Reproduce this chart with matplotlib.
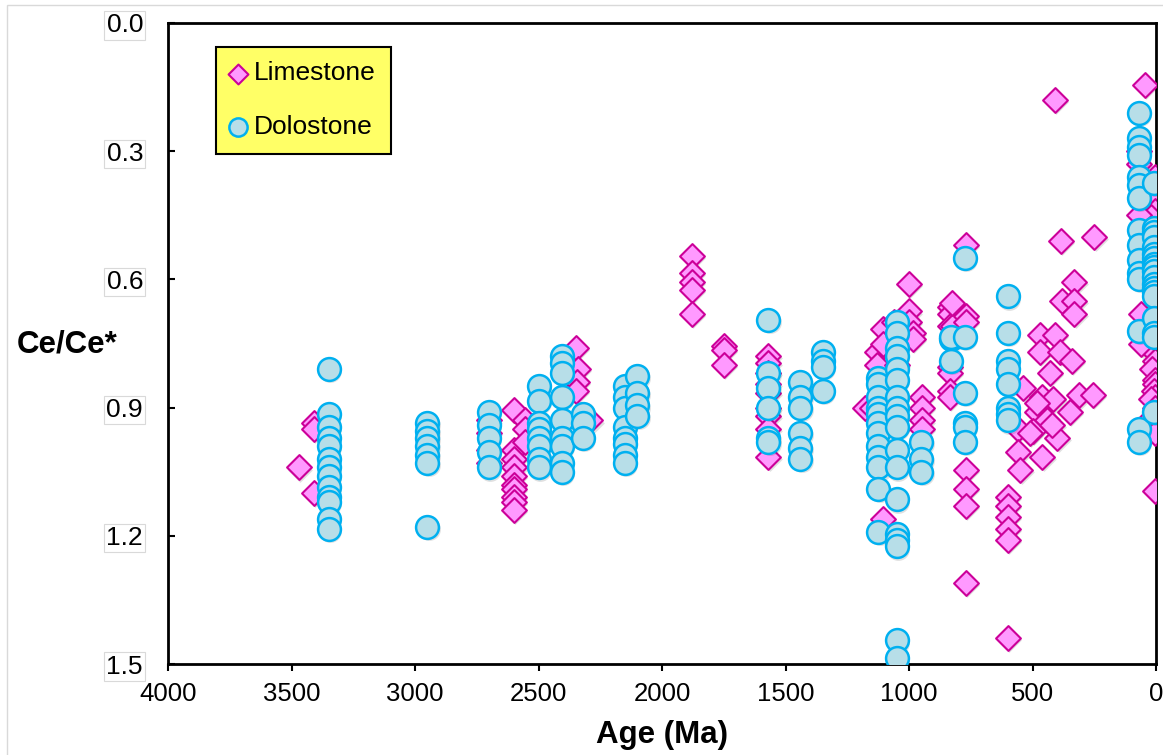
import matplotlib
matplotlib.use("Agg")
import matplotlib.pyplot as plt
from matplotlib.transforms import offset_copy
from matplotlib.patches import Rectangle

plt.rcParams['font.family'] = ['Liberation Sans', 'DejaVu Sans']

# Limestone samples: age (Ma) and Ce/Ce*
lime_age = [3470, 3410, 3410, 3410,
            2700, 2700, 2700, 2700,
            2600, 2600, 2600, 2600, 2600, 2600, 2600, 2600, 2600, 2600,
            2555, 2555, 2555,
            2350, 2340, 2345, 2350, 2290,
            1880, 1880, 1880, 1880, 1880,
            1750, 1750, 1750,
            1570, 1570, 1570, 1570, 1570, 1570, 1570, 1570, 1570,
            1180, 1150, 1130, 1130, 1105, 1105, 1105,
            1060, 1040, 1050, 1110, 1120, 1050, 1100,
            1000, 1000, 1000, 985, 985,
            947, 947, 947, 947,
            834, 834, 834, 834, 834, 834, 834, 822, 826,
            770, 770, 770, 770, 770, 770, 770,
            600, 600, 600, 600, 600, 600,
            470, 410, 470, 390, 340, 430, 540, 460, 415, 310, 480, 350,
            440, 560, 500, 400, 560, 460, 550, 510, 480, 420, 255,
            409, 385, 250, 330, 380, 330, 330,
            45, 5, 5, 5, 20, 5, 60, 5, 70, 70, 70, 60, 5, 5, 10, 5,
            15, 5, 5, 10, 5, 20, 5, 30, 5, 5, 60, 40]
lime_ce = [1.04, 0.935, 0.95, 1.10,
           0.93, 0.96, 1.00, 1.03,
           0.905, 1.00, 1.02, 1.04, 1.06, 1.08, 1.09, 1.11, 1.12, 1.14,
           0.93, 0.95, 0.98,
           0.76, 0.81, 0.84, 0.86, 0.93,
           0.545, 0.585, 0.605, 0.625, 0.68,
           0.755, 0.765, 0.80,
           0.78, 0.795, 0.82, 0.845, 0.865, 0.90, 0.92, 0.95, 1.015,
           0.90, 0.90, 0.77, 0.80, 0.715, 0.75, 1.16,
           0.70, 0.72, 0.80, 0.85, 0.93, 0.95, 1.00,
           0.61, 0.675, 0.70, 0.725, 0.74,
           0.875, 0.90, 0.93, 0.95,
           0.665, 0.68, 0.71, 0.805, 0.82, 0.86, 0.875, 0.71, 0.655,
           0.52, 0.685, 0.70, 1.045, 1.09, 1.13, 1.31,
           1.11, 1.13, 1.155, 1.185, 1.21, 1.44,
           0.73, 0.73, 0.77, 0.77, 0.79, 0.82, 0.855, 0.875, 0.88, 0.87, 0.91, 0.91,
           0.93, 0.95, 0.955, 0.97, 1.005, 1.015, 1.045, 0.96, 0.89, 0.94, 0.87,
           0.18, 0.51, 0.50, 0.605, 0.65, 0.65, 0.68,
           0.145, 0.36, 0.41, 0.44, 0.455, 0.50, 0.55, 0.60, 0.30, 0.33, 0.45, 0.68, 0.69, 0.74, 0.77, 0.79,
           0.81, 0.835, 0.845, 0.86, 0.875, 0.88, 0.90, 0.93, 0.96, 1.095, 0.75, 0.72]

# Dolostone samples: age (Ma) and Ce/Ce*
dolo_age = [3350] * 13 + [2950] * 7 + [2700] * 5 + [2500] * 8 + [2405] * 9 + \
           [2320] * 3 + [2150] * 8 + [2100] * 4 + [1570] * 6 + [1440] * 6 + \
           [1350] * 4 + [1125] * 12 + [1050] * 18 + [950] * 3 + [830] * 3 + \
           [775] * 6 + [600] * 8 + [70] * 15 + [10] * 19
dolo_ce = [0.81, 0.915, 0.945, 0.97, 0.99, 1.02, 1.04, 1.06, 1.085, 1.11, 1.12, 1.16, 1.185,
           0.935, 0.955, 0.97, 0.99, 1.01, 1.03, 1.18,
           0.91, 0.94, 0.97, 1.005, 1.04,
           0.85, 0.885, 0.935, 0.95, 0.97, 0.99, 1.02, 1.04,
           0.78, 0.795, 0.82, 0.875, 0.93, 0.97, 0.99, 1.03, 1.05,
           0.915, 0.935, 0.97,
           0.85, 0.875, 0.90, 0.945, 0.97, 0.985, 1.01, 1.03,
           0.825, 0.865, 0.895, 0.92,
           0.695, 0.82, 0.855, 0.90, 0.97, 0.98,
           0.84, 0.875, 0.90, 0.96, 0.995, 1.02,
           0.77, 0.79, 0.805, 0.86,
           0.83, 0.845, 0.875, 0.90, 0.915, 0.935, 0.96, 0.99, 1.015, 1.04, 1.09, 1.19,
           0.70, 0.725, 0.76, 0.78, 0.81, 0.835, 0.875, 0.90, 0.92, 0.945, 1.00, 1.04,
           1.115, 1.195, 1.21, 1.225, 1.445, 1.485,
           0.98, 1.02, 1.05,
           0.74, 0.79, 0.735,
           0.55, 0.735, 0.865, 0.935, 0.945, 0.98,
           0.64, 0.725, 0.79, 0.81, 0.845, 0.90, 0.915, 0.93,
           0.21, 0.27, 0.29, 0.31, 0.36, 0.38, 0.41, 0.485, 0.52, 0.555, 0.585, 0.60, 0.72, 0.95, 0.98,
           0.375, 0.48, 0.49, 0.50, 0.525, 0.54, 0.55, 0.565, 0.57, 0.58, 0.595, 0.61, 0.62, 0.63,
           0.64, 0.69, 0.725, 0.735, 0.91]

x_ticks = [4000, 3500, 3000, 2500, 2000, 1500, 1000, 500, 0]
y_ticks = [0.0, 0.3, 0.6, 0.9, 1.2, 1.5]

fig = plt.figure(figsize=(11.63, 7.55), dpi=100)
ax = fig.add_axes([168 / 1163, 1 - 664 / 755, 988 / 1163, 641 / 755])

# light grey chart-area border
fig.patches.append(Rectangle((7 / 1163, -0.05), 1.2, 1 - 5 / 755 + 0.05,
                             transform=fig.transFigure, fill=False,
                             edgecolor='#D9D9D9', linewidth=1))

# soft drop shadows like the Excel markers
shadow = offset_copy(ax.transData, fig=fig, x=1.0, y=-1.5, units='points')
ax.scatter(lime_age, lime_ce, marker='D', s=160, color='#000000', alpha=0.12,
           linewidths=0, transform=shadow, zorder=2)
ax.scatter(lime_age, lime_ce, marker='D', s=160, facecolor='#FF99FF',
           edgecolor='#CC0099', linewidths=1.5, label='Limestone', zorder=3)
ax.scatter(dolo_age, dolo_ce, marker='o', s=270, color='#000000', alpha=0.12,
           linewidths=0, transform=shadow, zorder=4)
ax.scatter(dolo_age, dolo_ce, marker='o', s=270, facecolor='#B7DEE8',
           edgecolor='#00B0F0', linewidths=1.8, label='Dolostone', zorder=5)

ax.set_xlim(4000, 0)
ax.set_ylim(1.5, 0.0)
ax.set_xticks(x_ticks)
ax.set_yticks(y_ticks)
ax.set_yticklabels(['%.1f' % v for v in y_ticks])

for side in ['left', 'bottom', 'right', 'top']:
    ax.spines[side].set_linewidth(2)
    ax.spines[side].set_color('black')

ax.tick_params(axis='x', direction='out', length=5, width=1.5, pad=8, labelsize=18.5)
ax.tick_params(axis='y', direction='in', length=5, width=1.5, pad=18, labelsize=19)
for lab in ax.get_yticklabels():
    lab.set_bbox(dict(boxstyle='square,pad=0.08', facecolor='white',
                      edgecolor='#D9D9D9', linewidth=0.8))

ax.set_xlabel('Age (Ma)', fontsize=22.5, fontweight='bold', labelpad=10)
ax.set_ylabel('Ce/Ce*', fontsize=22.5, fontweight='bold', rotation=0,
              ha='left', va='center')
ax.yaxis.set_label_coords(-0.1528, 0.4977)

leg = ax.legend(loc='upper left', bbox_to_anchor=(0.0486, 0.9626),
                borderaxespad=0, fancybox=False, framealpha=1,
                facecolor='#FFFF66', edgecolor='black', fontsize=19,
                markerscale=0.8, handlelength=0.6, handletextpad=0.3,
                borderpad=0.55, labelspacing=1.12, scatterpoints=1)
leg.get_frame().set_linewidth(1.5)

fig.savefig('out.png', dpi=100)
